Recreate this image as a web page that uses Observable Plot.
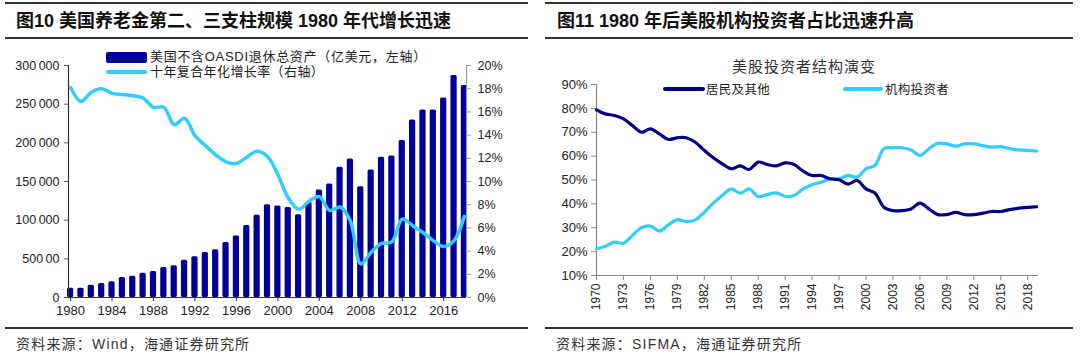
<!DOCTYPE html>
<html>
<head>
<meta charset="utf-8">
<script src="https://cdn.jsdelivr.net/npm/d3@7"></script>
<script src="https://cdn.jsdelivr.net/npm/@observablehq/plot@0.6"></script>
<style>
  html, body { margin: 0; padding: 0; background: #fff; }
  body { width: 1080px; height: 355px; position: relative; overflow: hidden;
         font-family: "Liberation Sans", Arial, "Noto Sans CJK SC", sans-serif; color: #222; }
  .rule { position: absolute; background: #333; }
  .title { position: absolute; font-family: "Liberation Sans", Arial, "Noto Sans CJK SC", sans-serif;
           font-weight: bold; font-size: 18px; line-height: 22px; color: #111; white-space: nowrap; }
  .src { position: absolute; font-size: 14px; line-height: 18px; letter-spacing: 1.2px; color: #333; white-space: nowrap; }
  .txt { position: absolute; white-space: nowrap; color: #222; }
  .sw { position: absolute; }
  svg.chart { position: absolute; overflow: visible; }
</style>
</head>
<body>
<script>
// ---------- Figure 10 data ----------
const assetYears = [1980,1981,1982,1983,1984,1985,1986,1987,1988,1989,
                    1990,1991,1992,1993,1994,1995,1996,1997,1998,1999,
                    2000,2001,2002,2003,2004,2005,2006,2007,2008,2009,
                    2010,2011,2012,2013,2014,2015,2016,2017,2018];
// 美国不含OASDI退休总资产（亿美元）
const pensionAssets = [12000,12000,16000,18000,20300,25900,27600,31500,33700,38800,
                       41000,48300,52700,58300,61700,71200,79400,93000,106500,119800,
                       118300,116500,107000,123000,139000,146800,168300,179100,143300,164900,
                       181300,183000,202900,229600,242600,242600,258100,287000,274000];
// 十年复合年化增长率（%）
const growthRate = [18.1,16.9,17.7,18.0,17.6,17.5,17.4,17.2,16.4,16.4,
                    14.9,15.45,13.96,13.1,12.3,11.7,11.55,12.1,12.6,12.15,
                    10.6,8.6,7.6,8.3,8.7,7.5,7.8,6.6,2.9,3.9,
                    4.66,4.8,6.76,6.2,5.6,4.9,4.4,4.9,7.0];
const leftTickValues = [0,50000,100000,150000,200000,250000,300000];
const leftTickLabels = ["0","500\u200900","100\u2009000","150\u2009000","200\u2009000","250\u2009000","300\u2009000"];
const rightTickPct = [0,2,4,6,8,10,12,14,16,18,20];
const xTickYears10 = [1980,1984,1988,1992,1996,2000,2004,2008,2012,2016];

// ---------- Figure 11 data ----------
const investorYears = [1970,1971,1972,1973,1974,1975,1976,1977,1978,1979,
                       1980,1981,1982,1983,1984,1985,1986,1987,1988,1989,
                       1990,1991,1992,1993,1994,1995,1996,1997,1998,1999,
                       2000,2001,2002,2003,2004,2005,2006,2007,2008,2009,
                       2010,2011,2012,2013,2014,2015,2016,2017,2018,2019];
// 居民及其他 (%)
const householdShare = [79.4,77.7,77.0,75.6,72.8,70.0,71.4,69.3,67.0,67.7,
                        67.7,65.8,62.4,59.3,56.8,54.7,55.9,54.4,57.5,56.5,
                        55.9,57.2,56.5,53.7,51.9,51.9,50.5,50.1,48.3,49.8,
                        46.3,44.5,38.6,37.2,37.2,37.9,40.3,37.9,35.5,35.5,
                        36.4,35.5,35.5,36.1,36.8,36.8,37.6,38.2,38.5,38.8];
// 机构投资者 (%)
const institutionShare = [21.2,22.3,24.0,23.5,26.8,30.0,30.7,28.6,31.2,33.4,
                          32.6,33.3,36.5,40.3,43.5,46.3,44.5,46.3,43.1,43.9,
                          44.6,43.2,43.5,46.3,48.0,49.1,50.5,50.5,51.9,51.2,
                          54.7,56.1,63.1,63.5,63.5,62.6,60.3,63.1,65.4,65.1,
                          64.2,65.1,65.1,64.4,63.8,64.0,63.1,62.6,62.4,62.1];
const yTickPct11 = [10,20,30,40,50,60,70,80,90];
const xTickYears11 = [1970,1973,1976,1979,1982,1985,1988,1991,1994,1997,2000,2003,2006,2009,2012,2015,2018];

// ---------- colours ----------
const navy = "#000096";
const navyLine = "#000085";
const sky = "#33CCFF";

// ---------- helpers for static layout ----------
function el(cls, style, text) {
  const d = document.createElement("div");
  d.className = cls;
  Object.assign(d.style, style);
  if (text) d.textContent = text;
  document.body.appendChild(d);
  return d;
}

// Panel frames (titles, rules, sources)
el("rule", {left: "5px", top: "2px", width: "523px", height: "2px"});
el("rule", {left: "5px", top: "37px", width: "523px", height: "2px"});
el("rule", {left: "5px", top: "327px", width: "523px", height: "2px"});
el("title", {left: "16px", top: "10px"}, "图10 美国养老金第二、三支柱规模 1980 年代增长迅速");
el("src", {left: "16px", top: "335px"}, "资料来源：Wind，海通证券研究所");

el("rule", {left: "545px", top: "2px", width: "528px", height: "2px"});
el("rule", {left: "545px", top: "37px", width: "528px", height: "2px"});
el("rule", {left: "545px", top: "327px", width: "528px", height: "2px"});
el("title", {left: "557px", top: "10px"}, "图11 1980 年后美股机构投资者占比迅速升高");
el("src", {left: "556px", top: "335px"}, "资料来源：SIFMA，海通证券研究所");

// ---------- Figure 10 chart ----------
const assetData = assetYears.map((year, i) => ({year, asset: pensionAssets[i]}));
const rateData = assetYears.map((year, i) => ({year, rate: growthRate[i]}));
const yMax = 300000, pctMax = 20;

const chart10 = Plot.plot({
  width: 540,
  height: 280,
  marginLeft: 68,
  marginRight: 74,
  marginTop: 20,
  marginBottom: 28,
  style: {fontFamily: "'Liberation Sans', Arial, sans-serif", fontSize: "12.5px", color: "#222", background: "transparent", overflow: "visible"},
  x: {type: "linear", domain: [1979.8, 2018.2], axis: null},
  y: {domain: [0, yMax], axis: null},
  marks: [
    Plot.rectY(assetData, {x1: d => d.year - 0.3, x2: d => d.year + 0.3, y: "asset", fill: navy, rx: 1.5}),
    Plot.line(rateData, {x: "year", y: d => d.rate / pctMax * yMax, stroke: sky, strokeWidth: 3.5, curve: "catmull-rom"}),
    Plot.ruleX([1979.8], {stroke: "#333", strokeWidth: 1.2}),
    Plot.ruleX([2018.2], {stroke: "#999", strokeWidth: 1.2}),
    Plot.ruleY([0], {stroke: "#333", strokeWidth: 1.2}),
    Plot.axisY(leftTickValues, {anchor: "left", label: null, tickSize: 4, tickPadding: 5, stroke: "#555",
      tickFormat: d => leftTickLabels[leftTickValues.indexOf(d)], fill: "#222"}),
    Plot.axisY(rightTickPct.map(p => p / pctMax * yMax), {anchor: "right", label: null, tickSize: 4, tickPadding: 7, stroke: "#999",
      tickFormat: d => Math.round(d / yMax * pctMax) + "%", fill: "#222"}),
    Plot.axisX(xTickYears10, {anchor: "bottom", label: null, tickSize: 4, tickPadding: 4, stroke: "#333",
      tickFormat: d => String(d), fill: "#222", fontSize: 13})
  ]
});
chart10.classList.add("chart");
chart10.style.left = "0px";
chart10.style.top = "45px";
document.body.appendChild(chart10);

// Legend figure 10
el("sw", {left: "106px", top: "52px", width: "41px", height: "11px", background: navy, borderRadius: "2px"});
el("txt", {left: "150px", top: "49px", fontSize: "13px", lineHeight: "16px", letterSpacing: "0.7px",
  fontFamily: "'Liberation Sans', 'Noto Sans CJK SC', sans-serif"}, "美国不含OASDI退休总资产（亿美元，左轴）");
el("sw", {left: "106px", top: "70px", width: "41px", height: "4px", background: sky, borderRadius: "2px"});
el("txt", {left: "150px", top: "64px", fontSize: "13px", lineHeight: "16px", letterSpacing: "0.4px",
  fontFamily: "'Liberation Sans', 'Noto Sans CJK SC', sans-serif"}, "十年复合年化增长率（右轴）");

// ---------- Figure 11 chart ----------
const houseData = investorYears.map((year, i) => ({year, v: householdShare[i]}));
const instData = investorYears.map((year, i) => ({year, v: institutionShare[i]}));

const chart11 = Plot.plot({
  width: 540,
  height: 275,
  marginLeft: 56,
  marginRight: 42,
  marginTop: 39,
  marginBottom: 45,
  style: {fontFamily: "'Liberation Sans', Arial, sans-serif", fontSize: "13px", color: "#222", background: "transparent", overflow: "visible"},
  x: {type: "linear", domain: [1970, 2019.2], axis: null},
  y: {domain: [10, 90], axis: null},
  marks: [
    Plot.ruleX([1970], {stroke: "#888", strokeWidth: 1.2}),
    Plot.ruleY([10], {stroke: "#888", strokeWidth: 1.2}),
    Plot.axisY(yTickPct11, {anchor: "left", label: null, tickSize: 5, tickPadding: 4, stroke: "#888",
      tickFormat: d => d + "%", fill: "#222"}),
    Plot.axisX(xTickYears11, {anchor: "bottom", label: null, tickSize: 5, tickPadding: 3, stroke: "#888", tickRotate: -90,
      tickFormat: d => String(d), fill: "#222", fontSize: 12}),
    Plot.line(instData, {x: "year", y: "v", stroke: sky, strokeWidth: 3.2, curve: "catmull-rom"}),
    Plot.line(houseData, {x: "year", y: "v", stroke: navyLine, strokeWidth: 3.2, curve: "catmull-rom"})
  ]
});
chart11.classList.add("chart");
chart11.style.left = "540px";
chart11.style.top = "45px";
document.body.appendChild(chart11);

// Chart title + legend figure 11
el("txt", {left: "732px", top: "57px", fontSize: "15px", lineHeight: "18px", letterSpacing: "1px",
  fontFamily: "'Noto Sans CJK SC', sans-serif", color: "#333"}, "美股投资者结构演变");
el("sw", {left: "663px", top: "87px", width: "42px", height: "4px", background: navyLine, borderRadius: "2px"});
el("txt", {left: "706px", top: "81px", fontSize: "12.5px", lineHeight: "16px", letterSpacing: "0.3px",
  fontFamily: "'Noto Sans CJK SC', sans-serif"}, "居民及其他");
el("sw", {left: "843px", top: "87px", width: "40px", height: "4px", background: sky, borderRadius: "2px"});
el("txt", {left: "885px", top: "81px", fontSize: "12.5px", lineHeight: "16px", letterSpacing: "0.3px",
  fontFamily: "'Noto Sans CJK SC', sans-serif"}, "机构投资者");
</script>
</body>
</html>
